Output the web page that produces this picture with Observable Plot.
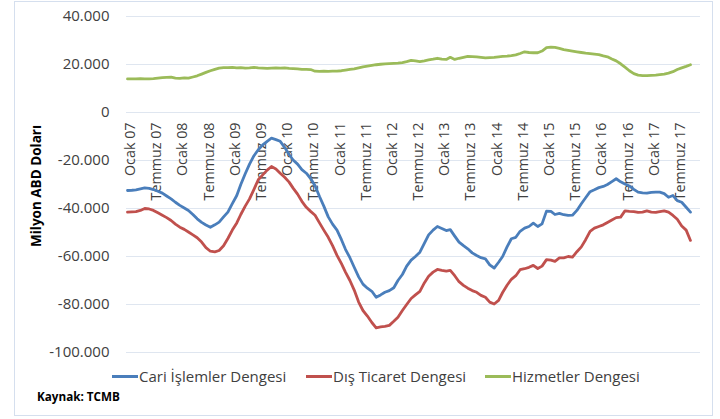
<!DOCTYPE html>
<html>
<head>
<meta charset="utf-8">
<script src="https://cdn.jsdelivr.net/npm/d3@7"></script>
<script src="https://cdn.jsdelivr.net/npm/@observablehq/plot@0.6"></script>
<style>
  html, body { margin: 0; padding: 0; background: #fff; }
  #wrap { position: relative; width: 720px; height: 419px; overflow: hidden; font-family: "Open Sans", sans-serif; color: #404040; }
  #frame { position: absolute; left: 14px; top: 1px; width: 699px; height: 415px; border: 1px solid #d5dfee; box-sizing: border-box; }
  #chart { position: absolute; left: 0; top: 0; }
  #ytitle { position: absolute; left: 36px; top: 186px; transform: translate(-50%, -50%) rotate(-90deg); font-weight: bold; font-size: 13.5px; color: #000; white-space: nowrap; }
  .leg { position: absolute; top: 366px; font-size: 15px; white-space: nowrap; display: flex; align-items: center; }
  .leg .sw { width: 26px; height: 3px; margin-right: 1px; }
  #src { position: absolute; left: 37px; top: 388px; font-size: 11.7px; font-weight: bold; color: #000; }
</style>
</head>
<body>
<div id="wrap">
  <div id="frame"></div>
  <div id="chart"></div>
  <div id="ytitle">Milyon ABD Doları</div>
  <div id="legend"></div>
  <div id="src">Kaynak: TCMB</div>
</div>
<script>
const seriesNames = ["Cari İşlemler Dengesi", "Dış Ticaret Dengesi", "Hizmetler Dengesi"];
const seriesColors = ["#4a7ebb", "#c0504d", "#9bbb59"];

// Monthly, Ocak 2007 – Ekim 2017 (12-month rolling sums, million USD)
const cari = [
-32500,-32400,-32200,-31800,-31400,-31600,-32100,-32800,-33600,-34800,
-36000,-37400,-38700,-39800,-40800,-42500,-44300,-45800,-46900,-47800,
-46800,-45700,-43500,-41500,-38000,-34600,-30000,-25500,-21500,-18000,
-15500,-13500,-12000,-10700,-11300,-12000,-14500,-17500,-19800,-21500,
-23800,-25300,-27500,-30500,-35000,-39000,-43500,-46500,-49000,-53000,
-57000,-60500,-64500,-68500,-71500,-73200,-74500,-77000,-76000,-74900,
-74200,-73000,-70000,-67500,-64000,-61500,-60000,-58200,-54500,-51000,
-49000,-47500,-48300,-49200,-48800,-51500,-54000,-55500,-56800,-58500,
-59600,-60500,-61000,-63500,-64800,-62400,-60000,-56000,-52600,-52000,
-49500,-48200,-47500,-46100,-47500,-46400,-41100,-41200,-42500,-42000,
-42600,-42900,-42800,-40800,-38000,-35500,-33000,-32200,-31300,-30800,
-30000,-28800,-27600,-28900,-29800,-30600,-32000,-33200,-33500,-33600,
-33300,-33200,-33200,-33800,-35300,-34600,-36700,-37400,-39500,-41500];

const disTicaret = [
-41500,-41400,-41300,-40800,-40000,-40200,-40800,-41800,-42800,-43800,
-45000,-46500,-47800,-48700,-49800,-51000,-52200,-54000,-56300,-57800,
-58100,-57500,-55500,-52500,-49000,-46000,-42500,-39000,-36000,-32000,
-28000,-26000,-24000,-22500,-23500,-25300,-27000,-29000,-31500,-34000,
-37000,-39500,-41200,-42800,-46000,-49000,-52000,-55500,-59500,-63000,
-66500,-70000,-74000,-79000,-82500,-84800,-87500,-89700,-89300,-89100,
-88700,-87000,-85300,-82500,-80000,-77500,-76000,-74500,-71000,-68200,
-66500,-65400,-65800,-66100,-65800,-68000,-70500,-72000,-73200,-74200,
-74900,-76200,-77000,-79000,-79800,-78300,-75000,-72000,-69500,-68000,
-65500,-65100,-64500,-63700,-65000,-64000,-61300,-61500,-62000,-60600,
-60600,-60000,-60300,-58000,-56000,-53000,-49500,-48200,-47500,-46800,
-45800,-44800,-43800,-43600,-41000,-41200,-41300,-41600,-41500,-41000,
-41500,-41600,-41300,-41000,-41500,-42900,-44500,-47300,-49000,-53300];

const hizmetler = [
14000,14000,14000,14100,14000,14000,14100,14300,14500,14600,
14700,14300,14200,14400,14300,14800,15300,16000,16700,17400,
18000,18500,18700,18700,18800,18600,18700,18500,18600,18800,
18600,18500,18400,18500,18600,18500,18600,18400,18300,18200,
18000,18000,17900,17200,17100,17200,17100,17200,17200,17400,
17700,18000,18200,18600,19000,19300,19600,19900,20100,20300,
20400,20500,20600,20800,21200,21700,21500,21200,21500,21900,
22200,22600,22200,22100,23000,22100,22600,23000,23400,23300,
23200,23000,22800,22900,23000,23200,23400,23500,23700,24000,
24600,25300,25000,24900,24900,25600,27000,27200,27100,26700,
26200,25900,25600,25300,25000,24700,24500,24300,24100,23600,
23200,22300,21500,20300,18900,17400,16200,15600,15400,15400,
15500,15600,15800,16000,16400,17000,17900,18600,19200,19900];

const xTickLabels = ["Ocak 07","Temmuz 07","Ocak 08","Temmuz 08","Ocak 09","Temmuz 09","Ocak 10","Temmuz 10",
  "Ocak 11","Temmuz 11","Ocak 12","Temmuz 12","Ocak 13","Temmuz 13","Ocak 14","Temmuz 14",
  "Ocak 15","Temmuz 15","Ocak 16","Temmuz 16","Ocak 17","Temmuz 17"];
const yTicks = [-100000, -80000, -60000, -40000, -20000, 0, 20000, 40000];

const months = d3.utcMonth.range(new Date(Date.UTC(2007, 0, 1)), new Date(Date.UTC(2017, 10, 1)));
const xTickDates = xTickLabels.map((_, i) => new Date(Date.UTC(2007, i * 6, 1)));

const allSeries = [cari, disTicaret, hizmetler];
const rows = [];
allSeries.forEach((vals, s) => vals.forEach((v, i) => rows.push({date: months[i], value: v, series: seriesNames[s]})));

const loc = d3.formatLocale({decimal: ",", thousands: ".", grouping: [3], currency: ["", ""], minus: "-"});
const fmt = loc.format(",d");

const chart = Plot.plot({
  width: 720,
  height: 362,
  marginLeft: 126,
  marginRight: 20,
  marginTop: 16,
  marginBottom: 10,
  style: {fontFamily: "Open Sans, sans-serif", fontSize: "14px", color: "#404040", background: "transparent", overflow: "visible"},
  x: {type: "utc", domain: [new Date(Date.UTC(2006, 11, 25)), new Date(Date.UTC(2017, 11, 10))], axis: null},
  y: {domain: [-100000, 40000]},
  color: {domain: seriesNames, range: seriesColors},
  marks: [
    Plot.ruleY(yTicks, {stroke: "#dfe6f0", strokeWidth: 1}),
    Plot.axisY(yTicks, {tickSize: 0, tickPadding: 17, tickFormat: fmt, fontSize: 15, fill: "#404040", label: null}),
    Plot.text(xTickDates, {x: d => d, y: 0, text: xTickLabels, rotate: -90, textAnchor: "end", dy: 10, dx: 3, fontSize: 14.3, fill: "#404040"}),
    Plot.lineY(rows, {x: "date", y: "value", z: "series", stroke: "series", strokeWidth: 2.8, strokeLinejoin: "round"})
  ]
});
document.getElementById("chart").appendChild(chart);

const legendLefts = [112, 306, 485];
const leg = document.getElementById("legend");
seriesNames.forEach((name, i) => {
  const d = document.createElement("div");
  d.className = "leg";
  d.style.left = legendLefts[i] + "px";
  d.innerHTML = `<span class="sw" style="background:${seriesColors[i]}"></span><span>${name}</span>`;
  leg.appendChild(d);
});
</script>
</body>
</html>
